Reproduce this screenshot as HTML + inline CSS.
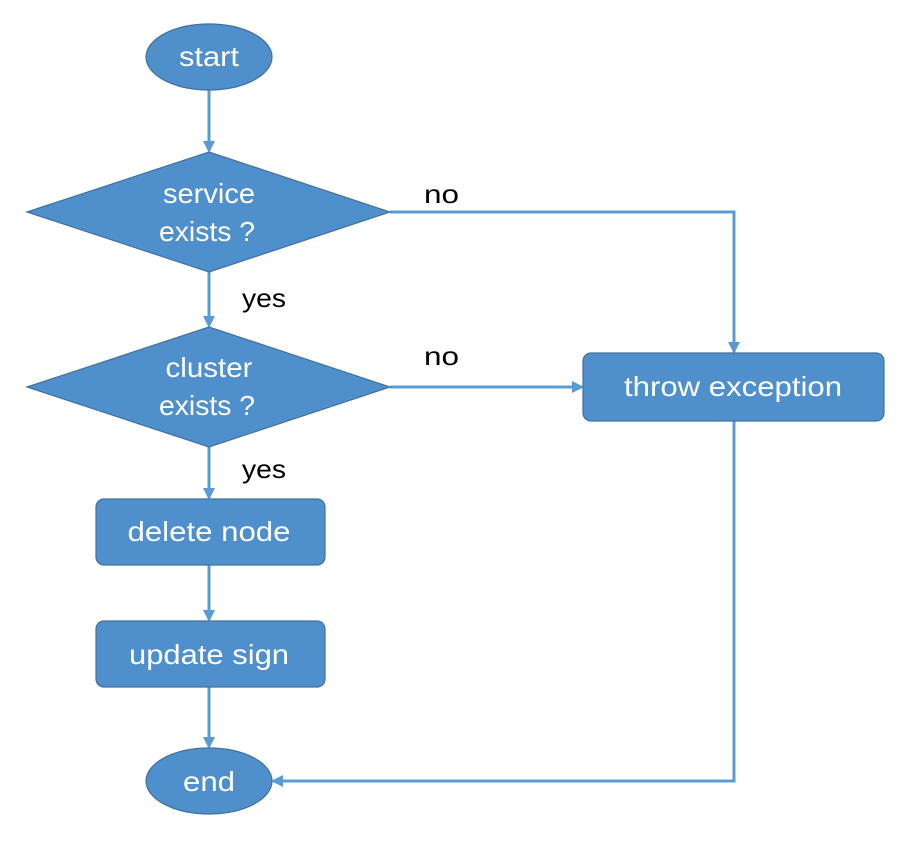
<!DOCTYPE html>
<html><head><meta charset="utf-8"><style>
html,body{margin:0;padding:0;background:#fff;}
svg text{font-family:"Liberation Sans","DejaVu Sans",sans-serif;}
</style></head><body>
<svg width="914" height="860" viewBox="0 0 914 860" xmlns="http://www.w3.org/2000/svg">
<defs>
<marker id="a" markerWidth="12" markerHeight="12" refX="10" refY="6" orient="auto" markerUnits="userSpaceOnUse">
<path d="M0,0 L12,6 L0,12 z" fill="#5b9bd5"/></marker>
</defs>
<g stroke="#5b9bd5" stroke-width="3" fill="none">
<line x1="209" y1="90" x2="209" y2="151" marker-end="url(#a)"/>
<line x1="209" y1="272" x2="209" y2="326" marker-end="url(#a)"/>
<line x1="209" y1="447" x2="209" y2="498" marker-end="url(#a)"/>
<line x1="209" y1="565" x2="209" y2="620" marker-end="url(#a)"/>
<line x1="209" y1="687" x2="209" y2="747" marker-end="url(#a)"/>
<polyline points="390,212 734,212 734,352" marker-end="url(#a)"/>
<line x1="390" y1="387" x2="582" y2="387" marker-end="url(#a)"/>
<polyline points="734,421 734,781 273,781" marker-end="url(#a)"/>
</g>
<g fill="#4f8fcc" stroke="#41719c" stroke-width="1.2">
<ellipse cx="209" cy="57" rx="63" ry="33"/>
<polygon points="27,212 209,152 390,212 209,272"/>
<polygon points="27,387 209,327 390,387 209,447"/>
<rect x="96" y="499" width="229" height="66" rx="8"/>
<rect x="96" y="621" width="229" height="66" rx="8"/>
<rect x="583" y="353" width="301" height="68" rx="8"/>
<ellipse cx="209" cy="781" rx="63" ry="33"/>
</g>
<g fill="#fff" font-size="28" text-anchor="middle" lengthAdjust="spacingAndGlyphs">
<text x="209" y="66" textLength="60" lengthAdjust="spacingAndGlyphs">start</text>
<text x="209" y="203" textLength="92" lengthAdjust="spacingAndGlyphs">service</text>
<text x="207" y="241" textLength="96" lengthAdjust="spacingAndGlyphs">exists ?</text>
<text x="209" y="377" textLength="87" lengthAdjust="spacingAndGlyphs">cluster</text>
<text x="207" y="415" textLength="96" lengthAdjust="spacingAndGlyphs">exists ?</text>
<text x="209" y="541" textLength="163" lengthAdjust="spacingAndGlyphs">delete node</text>
<text x="209" y="664" textLength="160" lengthAdjust="spacingAndGlyphs">update sign</text>
<text x="733" y="396" textLength="218" lengthAdjust="spacingAndGlyphs">throw exception</text>
<text x="209" y="791" textLength="52" lengthAdjust="spacingAndGlyphs">end</text>
</g>
<g fill="#000" font-size="26">
<text x="424" y="203" textLength="35" lengthAdjust="spacingAndGlyphs">no</text>
<text x="424" y="365" textLength="35" lengthAdjust="spacingAndGlyphs">no</text>
<text x="242" y="307" textLength="44" lengthAdjust="spacingAndGlyphs">yes</text>
<text x="242" y="478" textLength="44" lengthAdjust="spacingAndGlyphs">yes</text>
</g>
</svg>
</body></html>
